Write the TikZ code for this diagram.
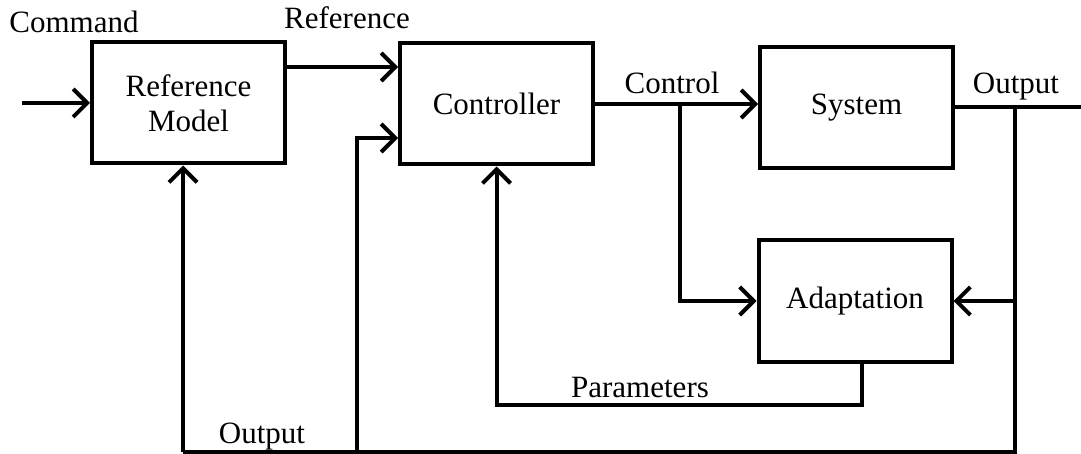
\documentclass[tikz,border=0pt]{standalone}
\usepackage{fontspec}
\setmainfont{Liberation Serif}
\usetikzlibrary{arrows.meta, positioning, calc}

\tikzset{
  block/.style={draw, line width=2pt, minimum width=96.5pt, minimum height=60.5pt, align=center},
  sig/.style={line width=2pt},
  arr/.style={sig, -{Straight Barb[length=7pt, width=14pt, line width=2pt]}},
  lbl/.style={inner sep=0pt}
}

\begin{document}
\begin{tikzpicture}[x=0.5pt, y=-0.5pt, font=\fontsize{15.5}{17.5}\selectfont]
  \useasboundingbox (0,0) rectangle (1081,454);
  % blocks ----------------------------------------------------------
  \node[block] (refmodel) at (188.5,103) {Reference\\Model};
  \node[block] (ctrl) at (496.5,104) {Controller};
  \node[block] (sys) at (856.5,107.5) {System};
  \node[block] (adapt) at (855,301) {Adaptation};
  % helper points ---------------------------------------------------
  \coordinate (cmdin) at (22,103);
  \coordinate (refy) at (0,67);
  \coordinate (fby) at (0,138);
  \coordinate (botl) at (183,452);
  \coordinate (botm) at (357,452);
  \coordinate (botr) at (1015,452);
  \coordinate (ctap) at (680,104);
  \coordinate (outend) at (1081,107.5);
  \coordinate (outtap) at (1015,107.5);
  \coordinate (ptap) at (862,405);
  % connectors ------------------------------------------------------
  \draw[arr] (cmdin) -- (refmodel.west);
  \draw[arr] (refmodel.east |- refy) -- (ctrl.west |- refy);
  \draw[arr] (ctrl.east) -- (ctrl.east -| sys.west);
  \draw[arr] (ctap) |- (adapt.west);
  \draw[sig] (sys.east) -- (outend);
  \draw[sig] (outtap) -- (botr) -- (botl);
  \draw[arr] (outtap |- adapt.east) -- (adapt.east);
  \draw[arr] (adapt.south -| ptap) -- (ptap) -| (ctrl.south);
  \draw[arr] (botl) -- (refmodel.south -| botl);
  \draw[arr] (botm) |- (ctrl.west |- fby);
  % labels ----------------------------------------------------------
  \node[lbl] (cmdlbl) at (74,22) {Command};
  \node[lbl] (reflbl) at (347,18) {Reference};
  \node[lbl] (ctllbl) at (672,83) {Control};
  \node[lbl] (outlbl) at (1016,87) {Output};
  \node[lbl] (parlbl) at (640,388) {Parameters};
  \node[lbl] (fblbl) at (262,437) {Output};
\end{tikzpicture}
\end{document}
